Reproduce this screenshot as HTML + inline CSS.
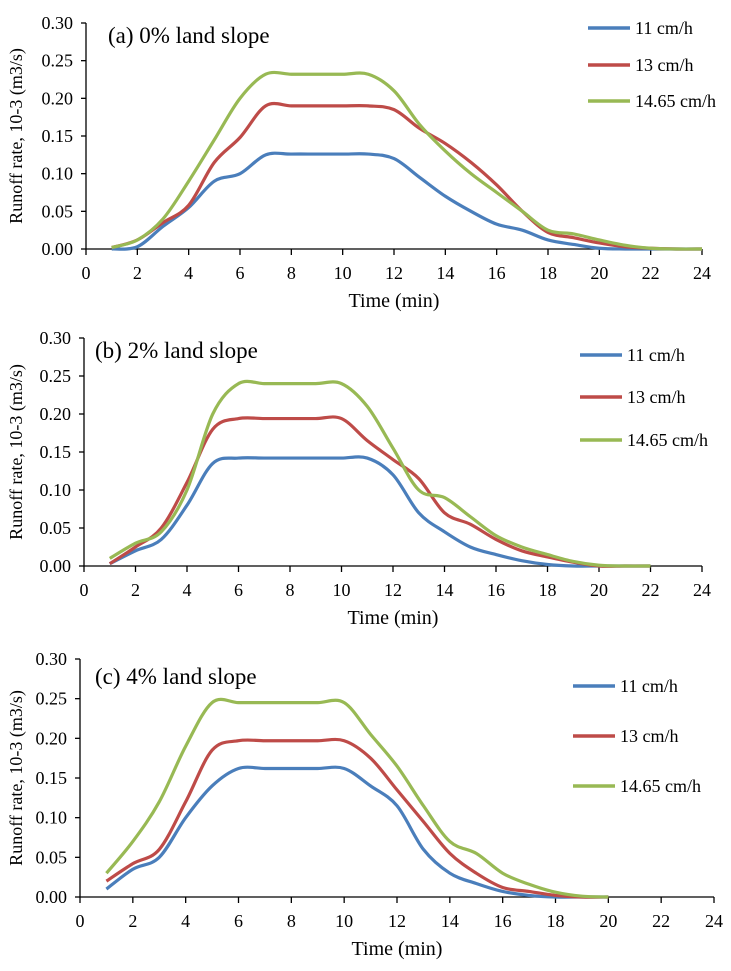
<!DOCTYPE html>
<html><head><meta charset="utf-8"><style>
body{margin:0;background:#fff;width:731px;height:966px;overflow:hidden}
svg text{font-family:"Liberation Serif",serif;fill:#000}
</style></head><body>
<svg id="s" width="731" height="966" xmlns="http://www.w3.org/2000/svg"></svg>
<script>
const times=[1,2,3,4,5,6,7,8,9,10,11,12,13,14,15,16,17,18,19,20,21,22,23,24];
const xTicks=[0,2,4,6,8,10,12,14,16,18,20,22,24];
const yTicks=[0,0.05,0.10,0.15,0.20,0.25,0.30];
const seriesNames=["11 cm/h","13 cm/h","14.65 cm/h"];
const colors=["#4a7ebb","#be4b48","#98b954"];
const titles=["(a) 0% land slope","(b) 2% land slope","(c) 4% land slope"];
const aBlue=[0,0.003,0.03,0.055,0.09,0.1,0.125,0.126,0.126,0.126,0.126,0.12,0.095,0.07,0.05,0.033,0.025,0.012,0.006,0.001,0,0,0,0];
const aRed=[0.002,0.012,0.035,0.058,0.115,0.148,0.19,0.19,0.19,0.19,0.19,0.185,0.16,0.14,0.115,0.085,0.05,0.022,0.015,0.008,0.003,0.001,0,0];
const aGreen=[0.002,0.012,0.04,0.09,0.145,0.2,0.232,0.232,0.232,0.232,0.232,0.21,0.165,0.13,0.1,0.075,0.05,0.025,0.02,0.012,0.005,0.001,0,0];
const bBlue=[0.003,0.02,0.035,0.08,0.135,0.142,0.142,0.142,0.142,0.142,0.142,0.12,0.07,0.045,0.025,0.015,0.007,0.002,0,0,0,0];
const bRed=[0.003,0.025,0.05,0.11,0.18,0.194,0.194,0.194,0.194,0.194,0.165,0.14,0.115,0.07,0.055,0.035,0.02,0.012,0.005,0,0,0];
const bGreen=[0.01,0.03,0.045,0.1,0.2,0.24,0.24,0.24,0.24,0.24,0.21,0.155,0.1,0.09,0.065,0.04,0.025,0.015,0.006,0.001,0,0];
const cBlue=[0.01,0.035,0.05,0.1,0.14,0.162,0.162,0.162,0.162,0.162,0.14,0.115,0.06,0.03,0.017,0.007,0.002,0,0,0];
const cRed=[0.02,0.042,0.06,0.12,0.185,0.197,0.197,0.197,0.197,0.197,0.175,0.135,0.095,0.055,0.03,0.012,0.007,0.002,0,0];
const cGreen=[0.03,0.07,0.12,0.19,0.245,0.245,0.245,0.245,0.245,0.245,0.205,0.165,0.115,0.07,0.055,0.03,0.016,0.006,0.001,0];
const panels=[
 {x0:86,x1:702,y0:249,y1:23,ser:[aBlue,aRed,aGreen],lx:588,ly:[28,65,101],tx:108,ty:43},
 {x0:84,x1:702,y0:566,y1:338,ser:[bBlue,bRed,bGreen],lx:580,ly:[355,397,440],tx:95,ty:358},
 {x0:80,x1:714,y0:897,y1:659,ser:[cBlue,cRed,cGreen],lx:573,ly:[686,736,786],tx:95,ty:684}
];
const svg=document.getElementById('s');
const NS="http://www.w3.org/2000/svg";
function mk(t,a,p){const e=document.createElementNS(NS,t);for(const k in a)e.setAttribute(k,a[k]);(p||svg).appendChild(e);return e;}
panels.forEach((P,pi)=>{
 const g=mk('g',{});
 
 
 const X=v=>P.x0+(P.x1-P.x0)*v/24, Y=v=>P.y0+(P.y1-P.y0)*v/0.30;
 const ax=mk('path',{d:`M${P.x0},${P.y1}V${P.y0}H${P.x1}`,stroke:'#000','stroke-width':1.3,fill:'none'},g);
 
 
 yTicks.forEach(v=>{
  mk('line',{x1:P.x0-5,x2:P.x0,y1:Y(v),y2:Y(v),stroke:'#000','stroke-width':1.3},g);
  const t=mk('text',{x:P.x0-13,y:Y(v)+6,'text-anchor':'end','font-size':18},g);t.textContent=v.toFixed(2);
  
  
 });
 xTicks.forEach(v=>{
  mk('line',{x1:X(v),x2:X(v),y1:P.y0,y2:P.y0+6,stroke:'#000','stroke-width':1.3},g);
  const t=mk('text',{x:X(v),y:P.y0+30,'text-anchor':'middle','font-size':18},g);t.textContent=v;
  
  
 });
 const xt=mk('text',{x:(P.x0+P.x1)/2,y:P.y0+58,'text-anchor':'middle','font-size':20},g);xt.textContent='Time (min)';
 
 
 const yc=(P.y0+P.y1)/2;
 const yt=mk('text',{x:0,y:0,transform:`translate(22,${yc}) rotate(-90)`,'text-anchor':'middle','font-size':18},g);yt.textContent='Runoff rate, 10-3 (m3/s)';
 
 
 const tt=mk('text',{x:P.tx,y:P.ty,'font-size':23},g);tt.textContent=titles[pi];
 
 
 P.ser.forEach((vals,si)=>{
  const pts=vals.map((v,i)=>[X(times[i]),Y(v)]);
  let d=`M${pts[0][0]},${pts[0][1]}`;
  for(let i=0;i<pts.length-1;i++){
   const p0=pts[i-1]||pts[i],p1=pts[i],p2=pts[i+1],p3=pts[i+2]||p2;
   const c1=[p1[0]+(p2[0]-p0[0])/6,p1[1]+(p2[1]-p0[1])/6],c2=[p2[0]-(p3[0]-p1[0])/6,p2[1]-(p3[1]-p1[1])/6];
   d+=`C${c1[0]},${c1[1]} ${c2[0]},${c2[1]} ${p2[0]},${p2[1]}`;
  }
  const l=mk('path',{d,stroke:colors[si],'stroke-width':3.2,fill:'none','stroke-linejoin':'round'},g);
  
  
  const ll=mk('line',{x1:P.lx,x2:P.lx+42,y1:P.ly[si],y2:P.ly[si],stroke:colors[si],'stroke-width':3.5},g);
  
  
  const lt=mk('text',{x:P.lx+47,y:P.ly[si]+6,'font-size':18},g);lt.textContent=seriesNames[si];
  
  
 });
});
</script>
</body></html>
